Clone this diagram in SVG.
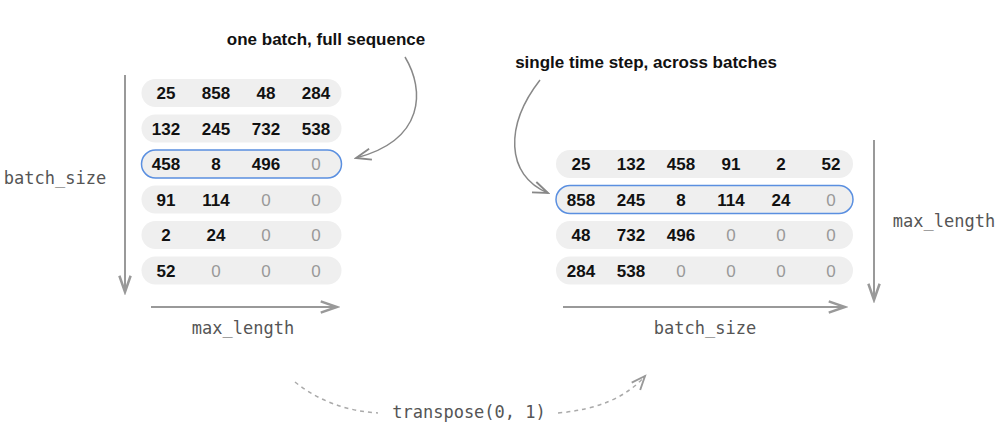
<svg xmlns="http://www.w3.org/2000/svg" width="1005" height="441" viewBox="0 0 1005 441">
<defs>
<style>
.pill{fill:#efefef;}
.hl{fill:#efefef;stroke:#5a8fe0;stroke-width:1.5;}
.n{font-family:"Liberation Sans",Arial,sans-serif;font-size:17px;font-weight:bold;fill:#111;text-anchor:middle;}
.z{font-family:"Liberation Sans",Arial,sans-serif;font-size:17px;fill:#999;text-anchor:middle;}
.lbl{font-family:"Liberation Sans",Arial,sans-serif;font-size:17px;font-weight:bold;fill:#111;text-anchor:middle;}
.mono{font-family:"DejaVu Sans Mono","Liberation Mono",monospace;font-size:17px;fill:#555;text-anchor:middle;}
.axis{stroke:#999;stroke-width:2;fill:none;}
.curve{stroke:#888;stroke-width:1.5;fill:none;}
.dash{stroke:#aaa;stroke-width:1.5;fill:none;stroke-dasharray:4 4;}
</style>
<marker id="ah" markerUnits="userSpaceOnUse" markerWidth="20" markerHeight="20" viewBox="-14 -7 16 14" refX="0" refY="0" orient="auto">
<path d="M-13,-4.5 L0,0 L-13,4.5" fill="none" stroke="#999" stroke-width="2"/>
</marker>
<marker id="ahc" markerUnits="userSpaceOnUse" markerWidth="20" markerHeight="20" viewBox="-14 -7 16 14" refX="0" refY="0" orient="auto">
<path d="M-12,-4.5 L0,0 L-12,4.5" fill="none" stroke="#888" stroke-width="1.5"/>
</marker>
<marker id="ahd" markerUnits="userSpaceOnUse" markerWidth="20" markerHeight="20" viewBox="-14 -7 16 14" refX="0" refY="0" orient="auto">
<path d="M-11,-4.5 L0,0 L-11,4.5" fill="none" stroke="#999" stroke-width="1.5"/>
</marker>
</defs>

<g id="left-grid">
<g id="L-row1"><rect class="pill" x="141.5" y="79" width="200" height="28" rx="14"/>
<text class="n" x="166" y="99">25</text><text class="n" x="216" y="99">858</text><text class="n" x="266" y="99">48</text><text class="n" x="316" y="99">284</text></g>
<g id="L-row2"><rect class="pill" x="141.5" y="114.5" width="200" height="28" rx="14"/>
<text class="n" x="166" y="134.5">132</text><text class="n" x="216" y="134.5">245</text><text class="n" x="266" y="134.5">732</text><text class="n" x="316" y="134.5">538</text></g>
<g id="L-row3"><rect class="hl" x="141.5" y="150" width="200" height="28" rx="14"/>
<text class="n" x="166" y="170">458</text><text class="n" x="216" y="170">8</text><text class="n" x="266" y="170">496</text><text class="z" x="316" y="170">0</text></g>
<g id="L-row4"><rect class="pill" x="141.5" y="185.5" width="200" height="28" rx="14"/>
<text class="n" x="166" y="205.5">91</text><text class="n" x="216" y="205.5">114</text><text class="z" x="266" y="205.5">0</text><text class="z" x="316" y="205.5">0</text></g>
<g id="L-row5"><rect class="pill" x="141.5" y="221" width="200" height="28" rx="14"/>
<text class="n" x="166" y="241">2</text><text class="n" x="216" y="241">24</text><text class="z" x="266" y="241">0</text><text class="z" x="316" y="241">0</text></g>
<g id="L-row6"><rect class="pill" x="141.5" y="256.5" width="200" height="28" rx="14"/>
<text class="n" x="166" y="276.5">52</text><text class="z" x="216" y="276.5">0</text><text class="z" x="266" y="276.5">0</text><text class="z" x="316" y="276.5">0</text></g>
</g>

<g id="right-grid">
<g id="R-row1"><rect class="pill" x="556" y="150" width="297" height="28" rx="14"/>
<text class="n" x="581" y="170">25</text><text class="n" x="631" y="170">132</text><text class="n" x="681" y="170">458</text><text class="n" x="731" y="170">91</text><text class="n" x="781" y="170">2</text><text class="n" x="831" y="170">52</text></g>
<g id="R-row2"><rect class="hl" x="556" y="185.5" width="297" height="28" rx="14"/>
<text class="n" x="581" y="205.5">858</text><text class="n" x="631" y="205.5">245</text><text class="n" x="681" y="205.5">8</text><text class="n" x="731" y="205.5">114</text><text class="n" x="781" y="205.5">24</text><text class="z" x="831" y="205.5">0</text></g>
<g id="R-row3"><rect class="pill" x="556" y="221" width="297" height="28" rx="14"/>
<text class="n" x="581" y="241">48</text><text class="n" x="631" y="241">732</text><text class="n" x="681" y="241">496</text><text class="z" x="731" y="241">0</text><text class="z" x="781" y="241">0</text><text class="z" x="831" y="241">0</text></g>
<g id="R-row4"><rect class="pill" x="556" y="256.5" width="297" height="28" rx="14"/>
<text class="n" x="581" y="276.5">284</text><text class="n" x="631" y="276.5">538</text><text class="z" x="681" y="276.5">0</text><text class="z" x="731" y="276.5">0</text><text class="z" x="781" y="276.5">0</text><text class="z" x="831" y="276.5">0</text></g>
</g>

<g id="labels">
<text class="lbl" x="326" y="45">one batch, full sequence</text>
<text class="lbl" x="646" y="68">single time step, across batches</text>
<text class="mono" x="55" y="184">batch_size</text>
<text class="mono" x="243" y="334">max_length</text>
<text class="mono" x="705" y="334">batch_size</text>
<text class="mono" x="944" y="227">max_length</text>
<text class="mono" x="469" y="418">transpose(0, 1)</text>
</g>

<g id="connectors">
<path class="axis" d="M125,75 L125,292" marker-end="url(#ah)"/>
<path class="axis" d="M151,307 L337,307" marker-end="url(#ah)"/>
<path class="axis" d="M874,140 L874,300" marker-end="url(#ah)"/>
<path class="axis" d="M563,307 L845,307" marker-end="url(#ah)"/>
<path class="curve" d="M405,57 C425,90 425,140 356,158" marker-end="url(#ahc)"/>
<path class="curve" d="M540,80 C505,125 505,175 548,193" marker-end="url(#ahc)"/>
<path class="dash" d="M295,382 Q330,410 378,413"/>
<path class="dash" d="M558,413 Q617,408 645,376" marker-end="url(#ahd)"/>
</g>
</svg>
